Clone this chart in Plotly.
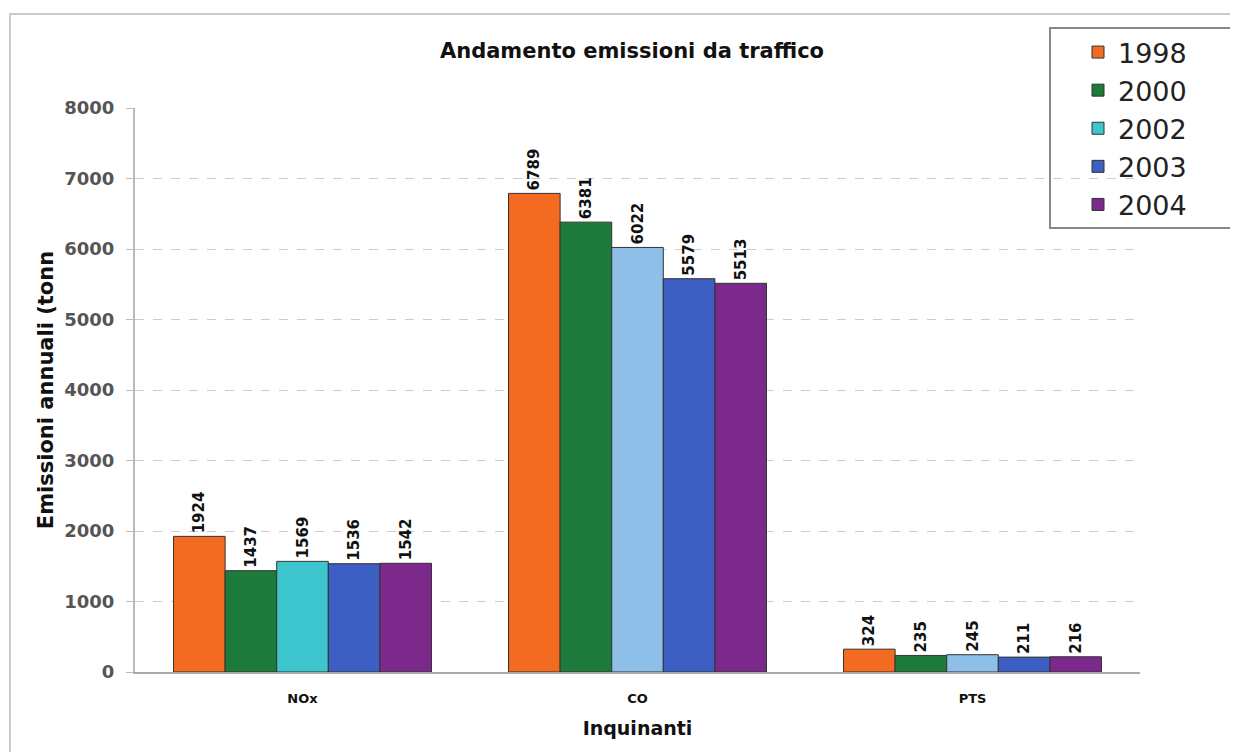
import plotly.graph_objects as go

categories = ["NOx", "CO", "PTS"]
years = ["1998", "2000", "2002", "2003", "2004"]
v1998 = [1924, 6789, 324]
v2000 = [1437, 6381, 235]
v2002 = [1569, 6022, 245]
v2003 = [1536, 5579, 211]
v2004 = [1542, 5513, 216]
series = [v1998, v2000, v2002, v2003, v2004]
colors = ["#f26b21", "#1d7a3b", "#8dbfe9", "#3d5ec2", "#7b2a8c"]
colors_2002_per_bar = ["#3ec6cf", "#8dbfe9", "#8dbfe9"]

W, H = 1238, 752
OFF = 8  # page body margin offset
L, R, T, B = 135 - OFF, 106, 108 - OFF, 88
PW, PH = W - L - R, H - T - B


def px_x(x):
    return (x - OFF - L) / PW


def px_y(y):
    return (H - B - (y - OFF)) / PH


fig = go.Figure()
for i, (yr, vals) in enumerate(zip(years, series)):
    col = colors_2002_per_bar if yr == "2002" else colors[i]
    fig.add_trace(go.Bar(
        x=categories, y=vals, name=yr,
        marker=dict(color=col, line=dict(color="#333333", width=1)),
        text=[str(v) for v in vals], textposition="outside", textangle=-90,
        textfont=dict(family="DejaVu Sans", size=15, color="#111111", weight="bold"),
        cliponaxis=False,
    ))

fig.update_layout(
    width=W, height=H,
    paper_bgcolor="white", plot_bgcolor="white",
    margin=dict(l=L, r=R, t=T, b=B),
    barmode="group", bargap=0.23, bargroupgap=0,
    title=dict(text="<b>Andamento emissioni da traffico</b>", x=px_x(632), xref="paper",
               xanchor="center", y=1 - (51 - OFF) / H, yref="container", yanchor="middle",
               font=dict(family="DejaVu Sans", size=21, color="#111111")),
    font=dict(family="DejaVu Sans", color="#222222"),
    legend=dict(x=px_x(1078), xanchor="left", y=px_y(28), yanchor="top",
                borderwidth=0, bgcolor="rgba(0,0,0,0)",
                font=dict(family="DejaVu Sans", size=27, color="#222222"),
                tracegroupgap=0),
    showlegend=True,
)
fig.update_xaxes(
    title=dict(text="<b>Inquinanti</b>", font=dict(size=19, color="#111111"), standoff=17),
    tickfont=dict(size=13, color="#111111", weight="bold"),
    ticklabelstandoff=13,
    showline=True, linecolor="#aaaaaa", linewidth=2,
    ticks="", showgrid=False,
)
fig.update_yaxes(
    title=dict(text="<b>Emissioni annuali (tonn</b>", font=dict(size=21, color="#111111"), standoff=5),
    range=[0, 8000], dtick=1000,
    tickfont=dict(size=18, color="#555555", weight="bold"),
    ticklabelstandoff=8,
    showline=True, linecolor="#bbbbbb", linewidth=2,
    ticks="outside", tickcolor="#bbbbbb", ticklen=7,
    showgrid=True, gridcolor="#cccccc", griddash="dash", gridwidth=1,
    zeroline=False,
)
# legend box
fig.add_shape(type="rect", xref="paper", yref="paper",
              x0=px_x(1050), x1=px_x(1232), y0=px_y(228), y1=px_y(28),
              line=dict(color="#888888", width=2), fillcolor="rgba(0,0,0,0)", layer="below")
# outer chart border (top and left visible)
fig.add_shape(type="rect", xref="paper", yref="paper",
              x0=px_x(10), x1=px_x(1260), y0=px_y(780), y1=px_y(14),
              line=dict(color="#cccccc", width=2), layer="below")

fig.write_html("out.html")
